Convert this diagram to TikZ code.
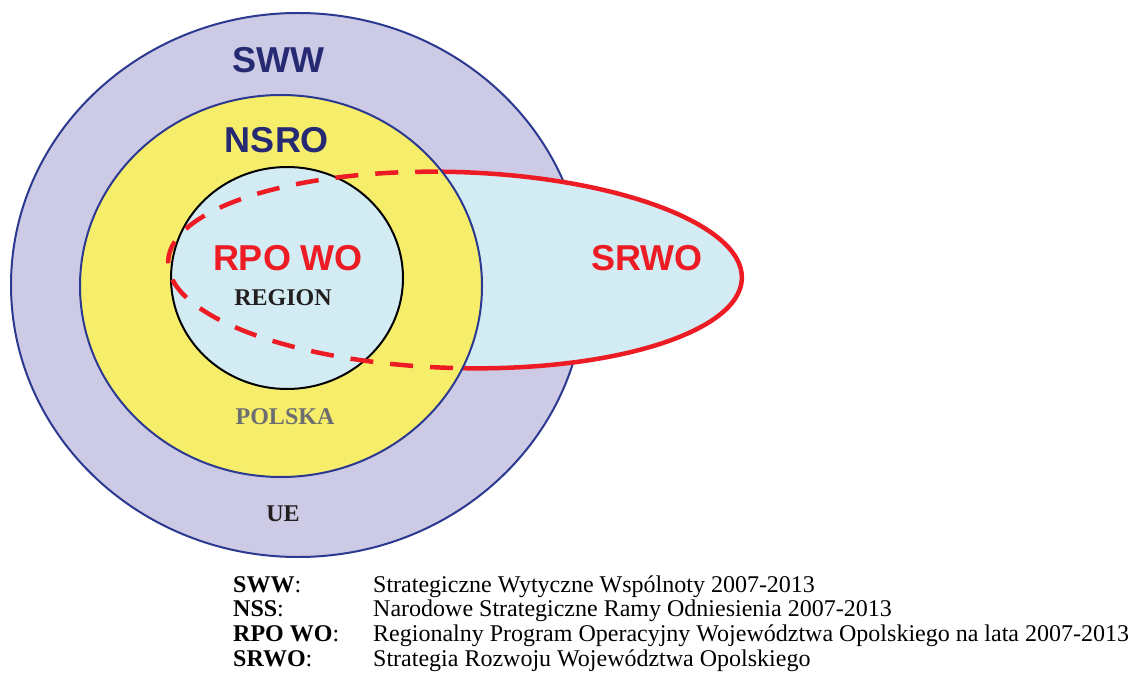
\documentclass[tikz,border=0pt]{standalone}
\usepackage{fontspec}
\setmainfont{Liberation Serif}
\setsansfont{Liberation Sans}
\usetikzlibrary{positioning}
\definecolor{uepurple}{HTML}{CCCAE5}
\definecolor{uenavy}{HTML}{2B3990}
\definecolor{plyellow}{HTML}{F6EE6B}
\definecolor{rglight}{HTML}{D3ECF3}
\definecolor{srred}{HTML}{ED1C24}
\definecolor{labnavy}{HTML}{262A73}
\definecolor{labgray}{HTML}{6D6E71}
\definecolor{labdark}{HTML}{231F20}
\begin{document}
\begin{tikzpicture}[x=1pt,y=-1pt,
  prog/.style={font=\sffamily\bfseries\fontsize{36}{36}\selectfont, inner sep=0pt},
  area/.style={font=\bfseries\fontsize{24}{24}\selectfont, text=labdark, inner sep=0pt},
  legend/.style={font=\fontsize{24}{24}\selectfont, anchor=base west, inner sep=0pt},
  srwoline/.style={srred, line width=4.5pt, rotate around={-1.7:(455,270)}}]
\useasboundingbox (0,0) rectangle (1134,684);
% UE ring
\filldraw[fill=uepurple, draw=uenavy, line width=2pt] (298,285) ellipse [x radius=287, y radius=272];
% SRWO area, solid outline outside Polska
\fill[rglight, rotate around={-1.7:(455,270)}] (455,270) ellipse [x radius=287, y radius=98];
\draw[srwoline] (455,270) ellipse [x radius=287, y radius=98];
% Polska
\filldraw[fill=plyellow, draw=uenavy, line width=2pt] (281,286) ellipse [x radius=201, y radius=191];
% Region
\filldraw[fill=rglight, draw=black, line width=2pt] (287,278) ellipse [x radius=116, y radius=111];
% SRWO outline, dashed inside Polska
\begin{scope}
  \clip (281,286) ellipse [x radius=201, y radius=191];
  \draw[srwoline, dash pattern=on 23pt off 17pt] (455,270) ellipse [x radius=287, y radius=98];
\end{scope}
% programme labels
\node[prog, text=labnavy] (sww) at (278,60) {SWW};
\node[prog, text=labnavy] (nsro) at (277,140) {NSRO};
\node[prog, text=srred] (rpo) at (288,258) {RPO WO};
\node[prog, text=srred] (srwo) at (647,258) {SRWO};
% area labels
\node[area] (region) at (283,298) {REGION};
\node[area, text=labgray] (polska) at (285,417) {POLSKA};
\node[area] (ue) at (283,514) {UE};
% legend
\foreach \lab/\txt [count=\i] in {SWW/Strategiczne Wytyczne Wspólnoty 2007-2013,
    NSS/Narodowe Strategiczne Ramy Odniesienia 2007-2013,
    RPO WO/Regionalny Program Operacyjny Województwa Opolskiego na lata 2007-2013,
    SRWO/Strategia Rozwoju Województwa Opolskiego} {
  \pgfmathsetmacro{\yb}{592+24.7*(\i-1)}
  \node[legend] (key\i) at (233,\yb) {\textbf{\lab}:};
  \node[legend] (desc\i) at (373,\yb) {\txt};
}
\end{tikzpicture}
\end{document}
